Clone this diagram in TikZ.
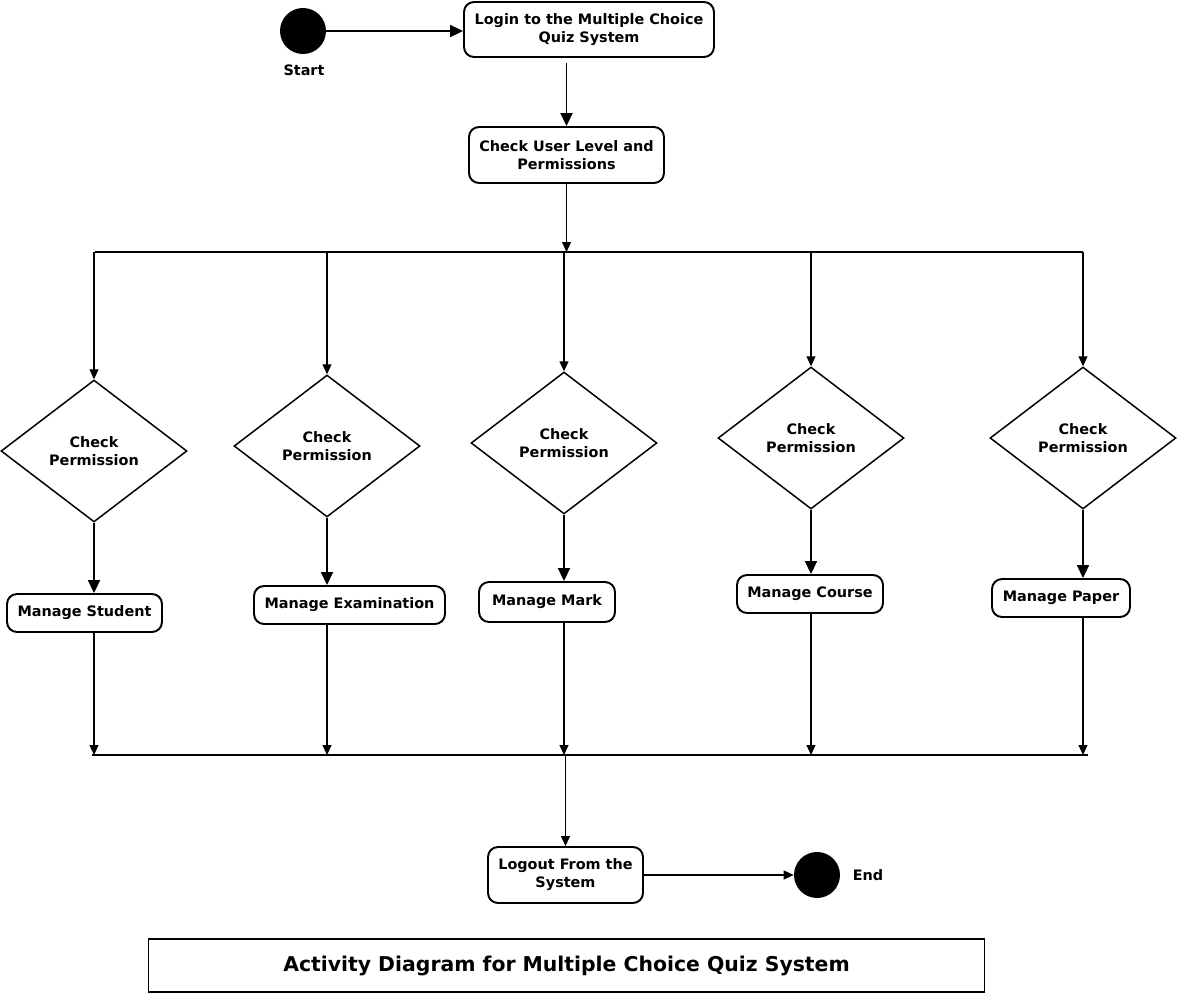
\documentclass[tikz,border=0pt]{standalone}
\usepackage{fontspec}
\setmainfont{DejaVu Sans}
\usetikzlibrary{shapes.geometric,arrows.meta,positioning}

\begin{document}
\begin{tikzpicture}[x=0.02cm, y=-0.02cm,
	font=\bfseries\fontsize{8.2}{10.25}\selectfont,
	activity/.style={draw, rounded corners=0.2cm, line width=1.1pt, align=center, fill=white, inner sep=1pt},
	decision/.style={diamond, draw, line width=0.85pt, align=center, minimum width=3.72cm, minimum height=2.84cm, inner sep=0pt},
	dot/.style={circle, fill=black, minimum size=0.92cm, inner sep=0pt},
	flow/.style={line width=1.1pt, -{Triangle[length=0.26cm, width=0.24cm]}},
	thinflow/.style={line width=0.6pt, -{Triangle[length=0.2cm, width=0.18cm]}},
	bar/.style={line width=1.2pt}
	]
	\useasboundingbox (0,0) rectangle (1178,994);
	
	% Start and login
	\node[dot] (start) at (303,31) {};
	\node (startlbl) at (304,70) {Start};
	\node[activity, minimum width=5cm, minimum height=1.1cm] (login) at (589,29.5) {Login to the Multiple Choice\\Quiz System};
	\node[activity, minimum width=3.9cm, minimum height=1.12cm] (level) at (566.5,155) {Check User Level and\\Permissions};
	
	\draw[flow] (start) -- (login.west |- start);
	\draw[flow, shorten <=0.1cm] (login.south -| level.north) -- (level.north);
	
	% Fork bar
	\coordinate (forkL) at (95,252);
	\coordinate (forkR) at (1083,252);
	\draw[bar] (forkL) -- (forkR);
	\draw[thinflow] (level.south) -- (level.south |- forkL);
	
	% Decisions
	\node[decision] (chk1) at (94,451) {Check\\Permission};
	\node[decision] (chk2) at (327,446) {Check\\Permission};
	\node[decision] (chk3) at (564,443) {Check\\Permission};
	\node[decision] (chk4) at (811,438) {Check\\Permission};
	\node[decision] (chk5) at (1083,438) {Check\\Permission};
	
	% Activities
	\node[activity, minimum width=3.1cm, minimum height=0.76cm] (student) at (84.5,613) {Manage Student};
	\node[activity, minimum width=3.82cm, minimum height=0.76cm] (exam) at (349.5,605) {Manage Examination};
	\node[activity, minimum width=2.72cm, minimum height=0.8cm] (mark) at (547,602) {Manage Mark};
	\node[activity, minimum width=2.92cm, minimum height=0.76cm] (course) at (810,594) {Manage Course};
	\node[activity, minimum width=2.76cm, minimum height=0.76cm] (paper) at (1061,598) {Manage Paper};
	
	% Join bar
	\coordinate (joinL) at (92,755);
	\coordinate (joinR) at (1088,755);
	\draw[bar] (joinL) -- (joinR);
	
	\foreach \d/\a in {chk1/student, chk2/exam, chk3/mark, chk4/course, chk5/paper}{
		\draw[thinflow] (\d.north |- forkL) -- (\d.north);
		\draw[flow] (\d.south) -- (\d.south |- \a.north);
		\draw[thinflow] (\d.south |- \a.south) -- (\d.south |- joinL);
	}
	
	% Logout and end
	\node[activity, minimum width=3.1cm, minimum height=1.12cm] (logout) at (565.5,875) {Logout From the\\System};
	\node[dot] (finish) at (817,875) {};
	\node (finishlbl) at (868,875) {End};
	
	\draw[thinflow] (joinL -| logout) -- (logout.north);
	\draw[thinflow] (logout) -- (finish);
	
	% Title
	\node[draw, line width=0.6pt, minimum width=16.74cm, minimum height=1.06cm, font=\bfseries\fontsize{11.6}{14}\selectfont] (title) at (566.5,965.5) {Activity Diagram for Multiple Choice Quiz System};
	
\end{tikzpicture}
\end{document}
